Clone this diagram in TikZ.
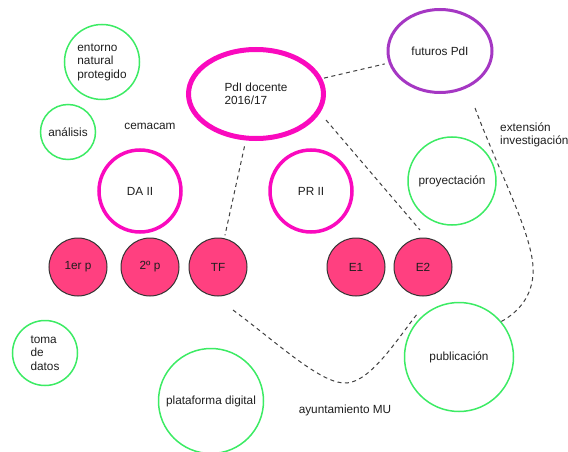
\documentclass[tikz,border=0pt]{standalone}
\usepackage{fontspec}
\setmainfont{Liberation Sans}
\usetikzlibrary{shapes.geometric}
\definecolor{mag}{RGB}{250,10,190}
\definecolor{grn}{RGB}{60,235,100}
\definecolor{purp}{RGB}{165,55,195}
\definecolor{pinkf}{RGB}{255,64,128}
\definecolor{txt}{RGB}{30,30,30}
\tikzset{
  every node/.style={font=\fontsize{11.8}{13.5}\selectfont, text=txt, inner sep=0pt},
  grncirc/.style={circle, draw=grn, line width=1.5pt},
  magcirc/.style={circle, draw=mag, line width=3.5pt, minimum size=82pt},
  pinkcirc/.style={circle, fill=pinkf, draw=black!80, line width=1pt, minimum size=58pt},
  dashline/.style={draw=black!75, line width=1pt, dash pattern=on 4pt off 3.5pt},
  plain/.style={align=left}
}
\begin{document}
\begin{tikzpicture}[x=1pt,y=-1pt]
\useasboundingbox (0,0) rectangle (568,452);
% green circles
\node[grncirc, minimum size=75pt, align=left] (ent) at (102,62) {entorno\\natural\\protegido};
\node[grncirc, minimum size=55pt] (ana) at (68,132) {análisis};
\node[grncirc, minimum size=88pt] (proy) at (452,181) {proyectación};
\node[grncirc, minimum size=65pt, align=left] (toma) at (45,353) {toma\\de\\datos};
\node[grncirc, minimum size=105pt] (plat) at (211,401) {plataforma digital};
\node[grncirc, minimum size=109pt] (pub) at (459,357) {publicación};
% texts
\node (cem) at (150,126) {cemacam};
\node[plain, anchor=west] (ext) at (500,135) {extensión\\investigación};
\node (ayu) at (345,410) {ayuntamiento MU};
% ellipses
\node[ellipse, draw=mag, line width=5pt, minimum width=135pt, minimum height=89pt, align=left] (pdi) at (256,94) {PdI docente\\2016/17};
\node[ellipse, draw=purp, line width=3pt, minimum width=104pt, minimum height=83pt] (fut) at (440,51) {futuros PdI};
% magenta circles
\node[magcirc] (da) at (140,191) {DA II};
\node[magcirc] (pr) at (311,191) {PR II};
% pink filled
\node[pinkcirc] (p1) at (78,267) {1er p};
\node[pinkcirc] (p2) at (150,267) {2º p};
\node[pinkcirc] (tf) at (218,267) {TF};
\node[pinkcirc] (e1) at (356,267) {E1};
\node[pinkcirc] (e2) at (423,267) {E2};
% connectors
\draw[dashline, shorten <=2pt, shorten >=4pt] (pdi) -- (fut);
\draw[dashline, shorten <=6pt, shorten >=3pt] (pdi) -- (tf);
\draw[dashline] ([shift={(70,26)}]pdi.center) -- ([shift={(-3,-37)}]e2.center);
\draw[dashline] ([shift={(35,57)}]fut.center)
  .. controls (500,175) and (536,240) .. (533,275)
  .. controls (531,300) and (515,314) .. (pub.40);
\draw[dashline] ([shift={(15,43)}]tf.center)
  .. controls (280,345) and (322,385) .. (347,383)
  .. controls (372,381) and (400,335) .. ([shift={(-5,46)}]e2.center);
\end{tikzpicture}
\end{document}
